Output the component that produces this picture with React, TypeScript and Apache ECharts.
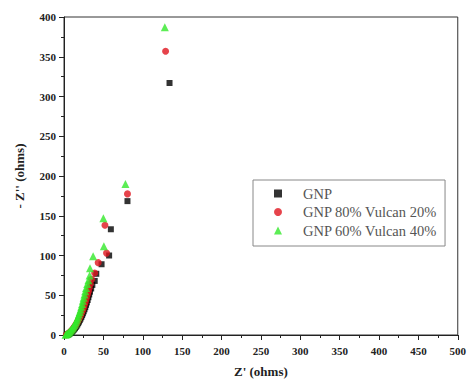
import React, { useEffect, useRef } from "react";
import * as echarts from "echarts";

const seriesNames = ["GNP", "GNP 80% Vulcan 20%", "GNP 60% Vulcan 40%"];

const gnp: number[][] = [
  [3.5, 0.1], [5, 0.5], [6, 1], [7, 1.7], [8, 2.5], [9, 3.3], [10, 4.2], [11, 5.2], [12, 6.3], [13, 7.5],
  [14, 8.8], [15, 10.2], [16, 11.7], [17, 13.3], [18, 15], [19, 16.8], [20, 18.7], [21, 20.7], [22, 22.8],
  [23, 25], [24, 27.3], [25, 29.8], [26, 32.4], [27, 35], [28, 38], [29, 41], [30, 44], [31, 47.5], [32, 51],
  [33, 54.5], [34.5, 58.5], [36, 63], [39, 68], [41, 77], [47.7, 89], [57.3, 100], [59.5, 133], [80.6, 168.4],
  [134, 317],
];

const gnp80: number[][] = [
  [3, 0.2], [4, 0.6], [5, 1.2], [6, 2], [7, 2.8], [8, 3.7], [9, 4.7], [10, 5.8], [11, 7], [12, 8.3], [13, 9.7],
  [14, 11.2], [15, 12.8], [16, 14.5], [17, 16.3], [18, 18.2], [19, 20.2], [20, 22.3], [21, 24.5], [22, 27],
  [23, 29.5], [24, 32], [25, 35], [26, 38], [27, 41], [28, 44.5], [29, 48], [30, 51.5], [31, 55], [32, 59],
  [33.5, 64], [35, 70], [39, 78], [43.4, 91], [54, 103], [52, 138], [80.6, 177.5], [129, 357],
];

const gnp60: number[][] = [
  [2, 0.3], [3, 0.8], [4, 1.5], [5, 2.3], [6, 3.2], [7, 4.2], [8, 5.3], [9, 6.5], [10, 7.8], [11, 9.2],
  [12, 10.7], [13, 12.3], [14, 14], [15, 16], [16, 18.2], [17, 20.5], [18, 23], [19, 26], [20, 29], [21, 32],
  [22, 35.5], [23, 39], [24, 43], [25, 47], [26, 51], [27, 55], [28, 59], [29.5, 64], [31, 69], [32.5, 75],
  [33, 84], [37, 99], [50.6, 111.5], [50, 147], [78, 190], [128, 387],
];

const FONT = "Times New Roman, Liberation Serif, serif";

export default function App() {
  const ref = useRef<HTMLDivElement>(null);
  useEffect(() => {
    if (!ref.current) return;
    const chart = echarts.init(ref.current, null, { renderer: "svg" });
    const axisCommon = {
      axisLine: { show: true, lineStyle: { color: "#222", width: 1 } },
      axisTick: { show: true, inside: false, length: 5, lineStyle: { color: "#222" } },
      minorTick: { show: true, splitNumber: 2, length: 3, lineStyle: { color: "#222" } },
      splitLine: { show: false },
      axisLabel: { fontFamily: FONT, fontWeight: "bold" as const, fontSize: 11, color: "#222" },
      nameTextStyle: { fontFamily: FONT, fontWeight: "bold" as const, fontSize: 13, color: "#222" },
    };
    chart.setOption({
      animation: false,
      backgroundColor: "#fff",
      grid: { left: 64, right: 8, top: 17, bottom: 43, show: true, borderColor: "#333", borderWidth: 1 },
      xAxis: {
        type: "value",
        min: 0,
        max: 500,
        interval: 50,
        name: "Z' (ohms)",
        nameLocation: "middle",
        nameGap: 30,
        ...axisCommon,
        axisLabel: { ...axisCommon.axisLabel, margin: 10 },
      },
      yAxis: {
        type: "value",
        min: 0,
        max: 400,
        interval: 50,
        name: "- Z'' (ohms)",
        nameLocation: "middle",
        nameGap: 38,
        ...axisCommon,
        axisLabel: { ...axisCommon.axisLabel, margin: 8 },
      },
      legend: {
        orient: "vertical",
        left: 253,
        top: 180,
        padding: [6, 8, 8, 21],
        itemWidth: 8,
        itemHeight: 8,
        itemGap: 3.5,
        borderColor: "#888",
        borderWidth: 1,
        borderRadius: 0,
        textStyle: { fontFamily: FONT, fontSize: 14.5, color: "#555", lineHeight: 14, padding: [0, 0, 0, 16] },
        data: seriesNames,
      },
      series: [
        {
          name: seriesNames[0],
          type: "scatter",
          data: gnp,
          symbol: "rect",
          symbolSize: 6,
          itemStyle: { color: "#000" },
        },
        {
          name: seriesNames[1],
          type: "scatter",
          data: gnp80,
          symbol: "circle",
          symbolSize: 7,
          itemStyle: { color: "#e0141e" },
        },
        {
          name: seriesNames[2],
          type: "scatter",
          data: gnp60,
          symbol: "triangle",
          symbolSize: 8,
          itemStyle: { color: "#33e82a" },
        },
      ],
    });
    return () => chart.dispose();
  }, []);
  return <div ref={ref} style={{ width: 469, height: 383, position: "fixed", left: 0, top: 0 }} />;
}
